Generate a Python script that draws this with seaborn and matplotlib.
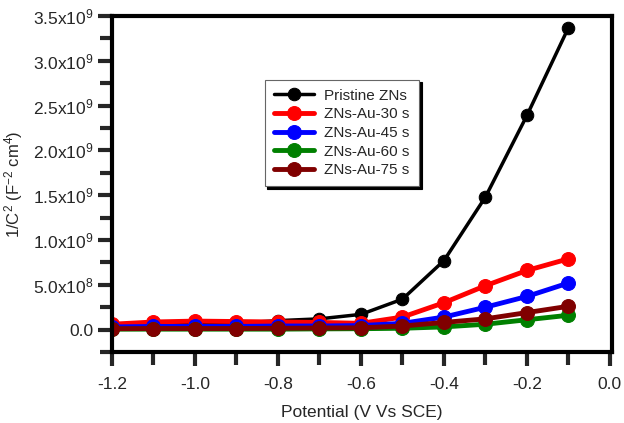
import numpy as np
import pandas as pd
import matplotlib
matplotlib.use("Agg")
import matplotlib.pyplot as plt
import seaborn as sns
from matplotlib.ticker import MultipleLocator, FixedLocator, FixedFormatter

potential = [-1.2, -1.1, -1.0, -0.9, -0.8, -0.7, -0.6, -0.5, -0.4, -0.3, -0.2, -0.1]
pristine = [0.04e9, 0.05e9, 0.06e9, 0.07e9, 0.10e9, 0.12e9, 0.17e9, 0.34e9, 0.77e9, 1.48e9, 2.39e9, 3.37e9]
au30 = [0.06e9, 0.085e9, 0.095e9, 0.09e9, 0.085e9, 0.08e9, 0.07e9, 0.14e9, 0.30e9, 0.49e9, 0.66e9, 0.79e9]
au45 = [0.03e9, 0.035e9, 0.035e9, 0.035e9, 0.04e9, 0.04e9, 0.045e9, 0.07e9, 0.14e9, 0.25e9, 0.37e9, 0.52e9]
au60 = [0.005e9, 0.005e9, 0.005e9, 0.005e9, 0.005e9, 0.008e9, 0.01e9, 0.015e9, 0.03e9, 0.06e9, 0.11e9, 0.16e9]
au75 = [0.01e9, 0.012e9, 0.012e9, 0.012e9, 0.015e9, 0.018e9, 0.02e9, 0.04e9, 0.08e9, 0.12e9, 0.19e9, 0.26e9]

series_names = ["Pristine ZNs", "ZNs-Au-30 s", "ZNs-Au-45 s", "ZNs-Au-60 s", "ZNs-Au-75 s"]
series_values = [pristine, au30, au45, au60, au75]
colors = ["#000000", "#ff0000", "#0000ff", "#008000", "#800000"]

ytick_vals = [0.0, 0.5e9, 1.0e9, 1.5e9, 2.0e9, 2.5e9, 3.0e9, 3.5e9]
ytick_labels = ["0.0", r"5.0x10$^{8}$", r"1.0x10$^{9}$", r"1.5x10$^{9}$", r"2.0x10$^{9}$",
                r"2.5x10$^{9}$", r"3.0x10$^{9}$", r"3.5x10$^{9}$"]
xtick_vals = [-1.2, -1.0, -0.8, -0.6, -0.4, -0.2, 0.0]
xtick_labels = ["-1.2", "-1.0", "-0.8", "-0.6", "-0.4", "-0.2", "0.0"]

sns.set_style("white")
plt.rcParams["font.family"] = ["Liberation Sans", "DejaVu Sans"]
plt.rcParams["mathtext.fontset"] = "custom"
plt.rcParams["mathtext.rm"] = "Liberation Sans"
plt.rcParams["mathtext.it"] = "Liberation Sans"
plt.rcParams["mathtext.default"] = "regular"

fig = plt.figure(figsize=(6.24, 4.23), dpi=100)
ax = fig.add_axes([112/624, 1 - 352/423, (612 - 112)/624, (352 - 16)/423])

df = pd.DataFrame({"Potential": potential * len(series_names),
                   "value": sum(series_values, []),
                   "series": [n for n in series_names for _ in potential]})

for name, col in zip(series_names, colors):
    sub = df[df["series"] == name]
    lw = 2.5 if name.startswith("Pristine") else 3.5
    ms = 9 if name.startswith("Pristine") else 10
    sns.lineplot(data=sub, x="Potential", y="value", color=col, marker="o",
                 linewidth=lw, markersize=ms, markeredgecolor=col, label=name, ax=ax)

ax.set_xlim(-1.2, 0.005)
ax.set_ylim(-0.25e9, 3.5e9)
ax.xaxis.set_major_locator(FixedLocator(xtick_vals))
ax.xaxis.set_major_formatter(FixedFormatter(xtick_labels))
ax.xaxis.set_minor_locator(MultipleLocator(0.1))
ax.yaxis.set_major_locator(FixedLocator(ytick_vals))
ax.yaxis.set_major_formatter(FixedFormatter(ytick_labels))
ax.yaxis.set_minor_locator(MultipleLocator(0.25e9))

for s in ax.spines.values():
    s.set_linewidth(3)
    s.set_color("black")
ax.tick_params(axis="both", which="both", direction="out", width=3, length=10,
               bottom=True, left=True, top=False, right=False, labelsize=12.5)
ax.tick_params(axis="both", which="minor", length=9)
ax.tick_params(axis="x", pad=8)
ax.tick_params(axis="y", pad=3)

ax.set_xlabel("Potential (V Vs SCE)", fontsize=12.5, labelpad=9)
ax.set_ylabel(r"1/C$^{2}$ (F$^{-2}$ cm$^{4}$)", fontsize=12, labelpad=6)

leg = ax.legend(loc="upper left", bbox_to_anchor=((257 - 112)/500, 1 - (72 - 16)/336),
                frameon=True, shadow={"color": "black", "alpha": 1}, fancybox=False,
                fontsize=11, handlelength=2.6, borderpad=0.6, labelspacing=0.3,
                handletextpad=0.7, edgecolor="#666666")
leg.get_frame().set_linewidth(0.8)

fig.savefig("out.png", dpi=100)
